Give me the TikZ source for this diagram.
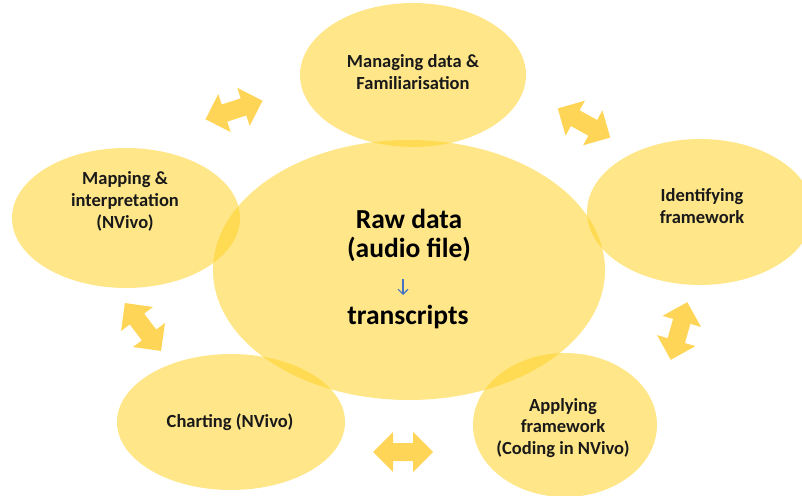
\documentclass[tikz,border=0pt]{standalone}
\usepackage{fontspec}
\setmainfont{Carlito}
\usetikzlibrary{arrows.meta}

\definecolor{blobfill}{RGB}{255,210,40}
\definecolor{arrowfill}{RGB}{255,213,88}
\definecolor{flowblue}{RGB}{68,114,196}

\tikzset{
  blob/.style={fill=blobfill, fill opacity=0.55, draw=none},
  stagetext/.style={font=\bfseries\fontsize{18.5}{21.7}\selectfont, align=center, anchor=base, inner sep=0pt, text=black!90},
  coretext/.style={font=\bfseries\fontsize{27.5}{29}\selectfont, align=center, anchor=base, inner sep=0pt, text=black},
  flowarrow/.style={draw=flowblue, line width=1.1pt, -{Straight Barb[length=5pt,width=10pt]}},
  dblarrow/.pic={
    \fill[arrowfill] (-30,0) -- (-10,20) -- (-10,9) -- (10,9) -- (10,20)
      -- (30,0) -- (10,-20) -- (10,-9) -- (-10,-9) -- (-10,-20) -- cycle;
  }
}

\begin{document}
\begin{tikzpicture}[x=1pt,y=1pt]
  \useasboundingbox (0,0) rectangle (802,495);
  \clip (0,0) rectangle (802,495);

  % stage ellipses round the central one
  \fill[blob] (413,420) ellipse [x radius=113, y radius=72];
  \fill[blob] (700,283) ellipse [x radius=113, y radius=73];
  \fill[blob] (565,70)  ellipse [x radius=92,  y radius=72];
  \fill[blob] (231,73)  ellipse [x radius=114, y radius=68];
  \fill[blob] (126,277) ellipse [x radius=114, y radius=70];
  \fill[blob] (409,225) ellipse [x radius=196, y radius=130];

  % two-headed block arrows between neighbouring stages
  \pic[rotate=18]  at (234,385) {dblarrow};
  \pic[rotate=-29] at (584,372) {dblarrow};
  \pic[rotate=74]  at (679,164) {dblarrow};
  \pic[rotate=-53] at (143,168) {dblarrow};
  \pic             at (403,43)  {dblarrow};

  % stage labels (anchored at the baseline of the last line)
  \node[stagetext] (manage) at (413,405.3) {Managing data \&\\Familiarisation};
  \node[stagetext] (ident)  at (702,271.3) {Identifying\\framework};
  \node[stagetext] (apply)  at (563,40.6)  {Applying\\framework\\(Coding in NVivo)};
  \node[stagetext] (chart)  at (230,68)    {Charting (NVivo)};
  \node[stagetext] (mapint) at (125,266.6) {Mapping \&\\interpretation\\(NVivo)};

  % central content
  \node[coretext] (raw)   at (409,237) {Raw data\\(audio file)};
  \node[coretext] (trans) at (408,170) {transcripts};
  \coordinate (flowtop) at (403,216);
  \coordinate (flowbot) at (403,200);
  \draw[flowarrow] (flowtop) -- (flowbot);
\end{tikzpicture}
\end{document}
